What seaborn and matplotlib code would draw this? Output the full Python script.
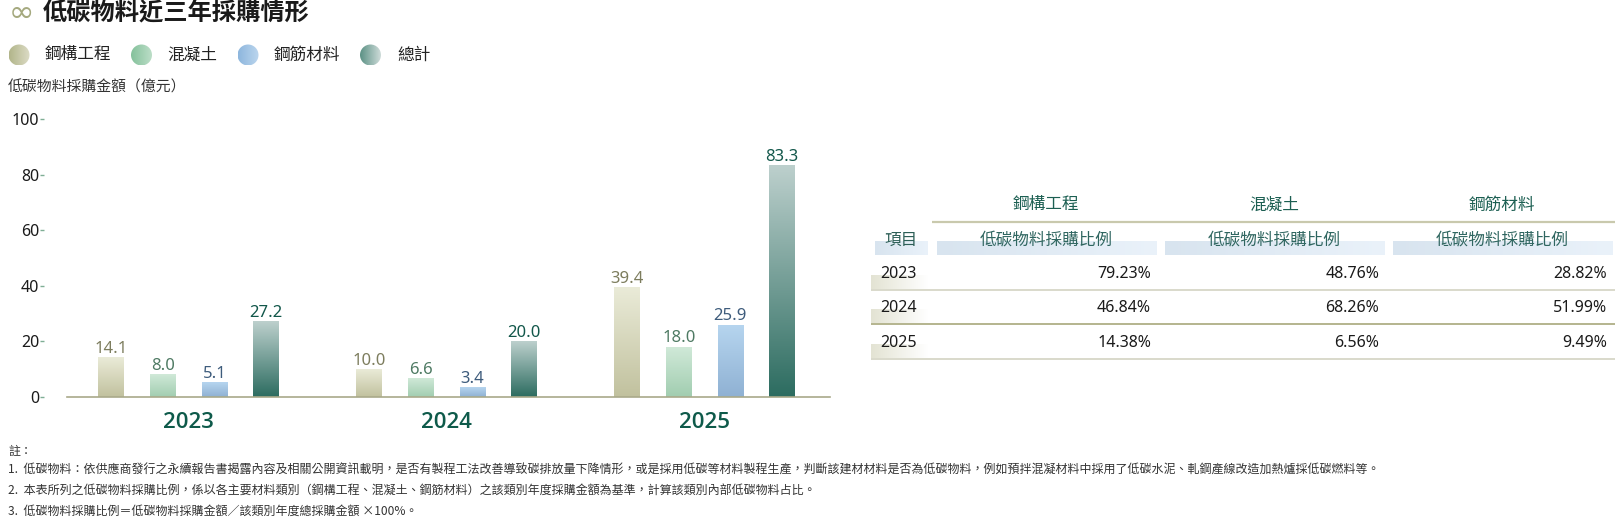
import numpy as np
import pandas as pd
import matplotlib
matplotlib.use('Agg')
import matplotlib.pyplot as plt
from matplotlib.colors import LinearSegmentedColormap
from matplotlib.patches import Circle
import seaborn as sns

# chart data (億元)
years = ['2023', '2024', '2025']
materials = ['鋼構工程', '混凝土', '鋼筋材料', '總計']
steel_structure = [14.1, 10.0, 39.4]
concrete = [8.0, 6.6, 18.0]
rebar = [5.1, 3.4, 25.9]
total = [27.2, 20.0, 83.3]
y_ticks = [0, 20, 40, 60, 80, 100]

# table data (%)
table_materials = ['鋼構工程', '混凝土', '鋼筋材料']
ratio_steel_structure = [79.23, 46.84, 14.38]
ratio_concrete = [48.76, 68.26, 6.56]
ratio_rebar = [28.82, 51.99, 9.49]

title = '低碳物料近三年採購情形'
y_label = '低碳物料採購金額（億元）'
table_sub_header = '低碳物料採購比例'
notes = [
    '註：',
    '1.  低碳物料：依供應商發行之永續報告書揭露內容及相關公開資訊載明，是否有製程工法改善導致碳排放量下降情形，或是採用低碳等材料製程生產，判斷該建材材料是否為低碳物料，例如預拌混凝材料中採用了低碳水泥、軋鋼產線改造加熱爐採低碳燃料等。',
    '2.  本表所列之低碳物料採購比例，係以各主要材料類別（鋼構工程、混凝土、鋼筋材料）之該類別年度採購金額為基準，計算該類別內部低碳物料占比。',
    '3.  低碳物料採購比例＝低碳物料採購金額／該類別年度總採購金額 ×100%。',
]

# styling
bar_top = {'鋼構工程': '#eaebd8', '混凝土': '#d0e9d8', '鋼筋材料': '#b6d5ef', '總計': '#bdd0cd'}
bar_bottom = {'鋼構工程': '#c1c19e', '混凝土': '#a1cdb0', '鋼筋材料': '#8fb1d3', '總計': '#2c6c60'}
legend_left = {'鋼構工程': '#b2b58a', '混凝土': '#84c19b', '鋼筋材料': '#8db6dd', '總計': '#5b9185'}
legend_right = {'鋼構工程': '#dcdcc6', '混凝土': '#bcdec8', '鋼筋材料': '#bcd6ee', '總計': '#cfdcd9'}
label_color = {'鋼構工程': '#7d7d5e', '混凝土': '#4e7a63', '鋼筋材料': '#3e5c7c', '總計': '#12574a'}
teal = '#0e5a4a'

W, H = 1620, 527

sns.set_style('white')
plt.rcParams['font.family'] = ['Noto Sans', 'Noto Sans CJK TC', 'DejaVu Sans']
plt.rcParams['mathtext.fontset'] = 'dejavusans'
cjk = ['Noto Sans CJK TC', 'DejaVu Sans']

df = pd.DataFrame({
    'year': years * 4,
    'material': np.repeat(materials, len(years)),
    'amount': steel_structure + concrete + rebar + total,
})

fig = plt.figure(figsize=(W / 100, H / 100), dpi=100)
ov = fig.add_axes([0, 0, 1, 1])
ov.axis('off')
ax = fig.add_axes([67 / W, 1 - 397 / H, 763 / W, 280 / H])

sns.barplot(data=df, x='year', y='amount', hue='material', hue_order=materials,
            palette=bar_bottom, width=0.8, gap=0.5, saturation=1, errorbar=None,
            legend=False, ax=ax)

grad = np.linspace(0, 1, 256).reshape(-1, 1)
for container, m in zip(ax.containers, materials):
    cmap = LinearSegmentedColormap.from_list(m, [bar_top[m], bar_bottom[m]])
    for p in container:
        x0, w, h = p.get_x(), p.get_width(), p.get_height()
        ax.imshow(grad, cmap=cmap, extent=[x0, x0 + w, 0, h], origin='upper',
                  aspect='auto', zorder=2)
        p.set_facecolor('none')
        p.set_edgecolor('none')
    ax.bar_label(container, fmt='%.1f', padding=0.5, color=label_color[m], fontsize=12)

ax.set_xlim(-0.472, 2.486)
ax.set_ylim(0, 100.8)
ax.set_yticks(y_ticks)
ax.set_xlabel('')
ax.set_ylabel('')
for s in ['top', 'right', 'left']:
    ax.spines[s].set_visible(False)
ax.spines['left'].set_position(('outward', 16.6))
ax.spines['bottom'].set_color('#a9a98a')
ax.spines['bottom'].set_linewidth(1.2)
ax.tick_params(axis='y', length=3, width=1, color='#7fae95', pad=0.5,
               labelsize=11.5, labelcolor='#1a1a1a', direction='out', left=True)
ax.tick_params(axis='x', length=0, pad=11)
ax.set_xticks(range(len(years)))
ax.set_xticklabels(years, fontsize=16, color=teal, fontweight='semibold',
                   family=['Open Sans', 'Noto Sans', 'DejaVu Sans'])

# title, legend, axis label
ov.text(8, 13, r'$\infty$', fontsize=22, color='#a5a97f', ha='left', va='center')
ov.text(43, 12, title, fontsize=17.5, fontweight='bold', color='#1a1a1a',
        family=cjk, ha='left', va='center')

legend_cx = [19, 141.5, 248, 370.5]
legend_tx = [45, 167, 274, 397]
hgrad = np.linspace(0, 1, 256).reshape(1, -1)
for m, cx, tx in zip(materials, legend_cx, legend_tx):
    r, cy = 10.5, 55
    cmap = LinearSegmentedColormap.from_list(m + 'lg', [legend_left[m], legend_right[m]])
    im = ov.imshow(hgrad, cmap=cmap, extent=[cx - r, cx + r, cy + r, cy - r], aspect='auto')
    im.set_clip_path(Circle((cx, cy), r, transform=ov.transData))
    ov.text(tx, cy, m, fontsize=12, color='#222222', family=cjk, ha='left', va='center')

ov.text(8, 87, y_label, fontsize=10.7, color='#333333', family=cjk, ha='left', va='center')

# table
col_centers = [1046, 1274, 1502]
row_y = [274, 308, 343]
row_lines = [290, 324, 359]
line_colors = ['#d9d9cb', '#b4b48e', '#d9d9cb']
ratios = [ratio_steel_structure, ratio_concrete, ratio_rebar]

ov.plot([932, 1615], [222, 222], color='#c9c9ad', lw=1.6, solid_capstyle='butt')
for ly, lc in zip(row_lines, line_colors):
    ov.plot([871, 1615], [ly, ly], color=lc, lw=1.4, solid_capstyle='butt')

band_cmap = LinearSegmentedColormap.from_list('band', ['#d8e4ef', '#eaf2fa'])
ov.imshow(hgrad, cmap=band_cmap, extent=[875, 928, 255, 241], aspect='auto')
for cx in col_centers:
    ov.imshow(hgrad, cmap=band_cmap, extent=[cx - 109.5, cx + 110, 255, 241], aspect='auto')

year_cmap = LinearSegmentedColormap.from_list('yr', ['#e3e3d3', '#ffffff'])
for ry, ly in zip(row_y, row_lines):
    ov.imshow(hgrad, cmap=year_cmap, extent=[871, 928, ly - 0.8, ry + 2], aspect='auto')

ov.text(901, 240, '項目', fontsize=12, color='#2d5f57', family=cjk, ha='center', va='center')
for cx, name, vals in zip(col_centers, table_materials, ratios):
    ov.text(cx, 205, name, fontsize=12, color='#1c5f52', family=cjk, ha='center', va='center')
    ov.text(cx, 240, table_sub_header, fontsize=12, color='#2f6660', family=cjk,
            ha='center', va='center')
    for ry, v in zip(row_y, vals):
        ov.text(cx + 105, ry, f'{v:.2f}%', fontsize=11.5, color='#1a1a1a',
                ha='right', va='center')
for ry, yr in zip(row_y, years):
    ov.text(880, ry, yr, fontsize=11.5, color='#1a1a1a', ha='left', va='center')

# notes
for ny, note in zip([452, 470, 490, 511], notes):
    ov.text(8, ny, note, fontsize=8.65, color='#333333', family=cjk, ha='left', va='center')

ov.set_xlim(0, W)
ov.set_ylim(H, 0)

fig.savefig('out.png', dpi=100)
